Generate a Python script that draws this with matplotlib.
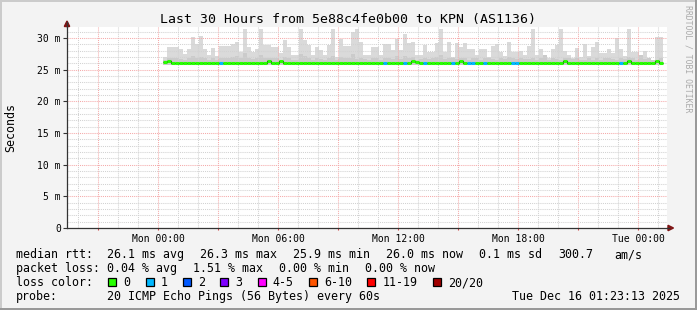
import numpy as np
import matplotlib
matplotlib.use('Agg')
import matplotlib.pyplot as plt
from matplotlib.patches import Rectangle, Polygon
from matplotlib.lines import Line2D
from matplotlib.ticker import FixedLocator

plt.rcParams['font.family'] = ['DejaVu Sans Mono']

# ---- data (ms, one value per 12 min step, starting Mon 00:15) ----
t_start = 0.25   # hours after Mon 00:00
t_step = 0.2     # hours

smoke_top = [
    27.0, 28.6, 28.6, 28.6, 28.3, 27.4, 28.2, 30.2, 29.1, 30.3, 28.3, 27.3, 28.5, 27.1, 28.7, 28.7, 28.8, 29.1, 29.4, 27.8, 31.5, 28.6, 27.8, 28.3, 31.5,
    28.9, 28.9, 28.6, 28.6, 27.6, 29.7, 28.6, 27.3, 27.3, 31.5, 29.7, 28.9, 27.3, 28.6, 28.1, 27.3, 28.9, 31.5, 27.0, 29.9, 28.7, 28.7, 31.0, 31.5, 29.4,
    27.3, 27.3, 28.6, 28.6, 27.3, 29.1, 29.1, 28.1, 29.9, 28.1, 30.7, 29.2, 29.4, 27.3, 27.3, 28.9, 27.8, 27.8, 29.2, 31.5, 27.8, 29.4, 27.0, 29.2, 28.6,
    29.2, 28.2, 28.3, 27.3, 28.2, 28.2, 27.0, 28.8, 29.1, 27.8, 27.1, 29.4, 27.8, 27.8, 27.9, 27.3, 28.8, 31.5, 27.3, 28.2, 27.3, 26.8, 28.2, 28.9, 31.5,
    28.0, 27.3, 26.8, 28.4, 27.0, 29.1, 27.1, 28.6, 29.3, 27.6, 27.6, 28.2, 27.7, 30.0, 28.2, 27.1, 31.5, 27.8, 27.8, 27.3, 28.0, 26.9, 26.6, 30.1, 30.1,
]
smoke_mid = [
    26.6, 26.9, 26.9, 26.8, 26.7, 26.5, 26.9, 27.1, 26.8, 27.0, 26.8, 26.6, 26.8, 26.6, 26.8, 26.9, 26.9, 27.0, 27.1, 26.8, 27.6, 26.9, 26.7, 26.8, 27.3,
    26.9, 26.8, 26.8, 26.9, 26.6, 27.0, 26.8, 26.6, 26.6, 27.4, 27.1, 26.9, 26.6, 26.8, 26.7, 26.6, 26.9, 27.2, 26.5, 27.0, 26.8, 26.9, 27.4, 26.7, 26.9,
    26.7, 26.6, 26.8, 26.8, 26.6, 26.9, 26.9, 26.7, 27.1, 26.7, 27.2, 26.9, 27.0, 26.6, 26.7, 26.9, 26.7, 26.8, 27.0, 27.3, 26.7, 26.9, 26.8, 26.7, 26.8,
    26.9, 26.6, 26.9, 26.9, 26.6, 26.8, 26.9, 26.7, 26.6, 26.8, 26.7, 27.0, 26.8, 26.7, 26.9, 26.7, 26.7, 26.8, 26.6, 26.9, 27.3, 26.6, 26.8, 26.7, 26.5,
    26.8, 26.9, 26.7, 26.8, 26.6, 26.5, 26.8, 26.6, 26.9, 26.6, 26.8, 26.9, 26.7, 26.6, 26.8, 26.7, 27.0, 26.8, 26.6, 27.3, 26.7, 26.8, 26.5, 26.5, 26.9,
]
median = [
    26.2, 26.4, 26.0, 26.1, 26.1, 26.0, 26.1, 26.1, 26.1, 26.1, 26.1, 26.1, 26.1, 26.1, 26.1, 26.1, 26.1, 26.1, 26.1, 26.1, 26.1, 26.0, 26.1, 26.1, 26.1,
    26.1, 26.4, 26.1, 26.1, 26.4, 26.1, 26.0, 26.1, 26.1, 26.1, 26.1, 26.1, 26.1, 26.1, 26.1, 26.1, 26.1, 26.0, 26.1, 26.1, 26.1, 26.1, 26.1, 26.0, 26.1,
    26.1, 26.1, 26.1, 26.1, 26.1, 26.1, 26.1, 26.1, 26.1, 26.1, 26.1, 26.1, 26.4, 26.2, 26.1, 26.1, 26.1, 26.1, 26.0, 26.1, 26.1, 26.1, 26.1, 26.1, 26.3,
    26.1, 26.1, 26.1, 26.0, 26.1, 26.1, 26.1, 26.1, 26.1, 26.1, 26.1, 26.1, 26.1, 26.1, 26.1, 26.0, 26.1, 26.1, 26.1, 26.1, 26.1, 26.1, 26.1, 26.1, 26.1,
    26.4, 26.1, 26.1, 26.1, 26.1, 26.0, 26.1, 26.1, 26.1, 26.1, 26.1, 26.1, 26.1, 26.1, 26.1, 26.1, 26.3, 26.1, 26.0, 26.1, 26.1, 26.1, 26.1, 26.3, 26.1,
]
loss_bin = [
    0, 0, 0, 0, 0, 0, 0, 0, 0, 0, 0, 0, 0, 0, 1, 0, 0, 0, 0, 0, 0, 0, 0, 0, 0,
    0, 0, 0, 0, 0, 0, 0, 0, 0, 0, 0, 0, 0, 0, 0, 0, 0, 0, 0, 0, 0, 0, 0, 0, 0,
    0, 0, 0, 0, 0, 1, 0, 0, 0, 0, 1, 0, 0, 0, 0, 1, 0, 0, 0, 0, 0, 0, 1, 0, 0,
    0, 1, 1, 0, 0, 1, 0, 0, 0, 0, 0, 0, 1, 1, 0, 0, 0, 0, 0, 0, 0, 0, 0, 0, 0,
    0, 0, 0, 0, 0, 0, 0, 0, 0, 0, 0, 0, 0, 0, 1, 0, 0, 0, 0, 0, 0, 0, 0, 0, 0,
]

loss_labels = ['0', '1', '2', '3', '4-5', '6-10', '11-19', '20/20']
loss_colors = ['#26ff00', '#00b8ff', '#0059ff', '#7e00ff', '#ff00ff', '#ff5500', '#ff0000', '#a10000']

x_tick_hours = [0, 6, 12, 18, 24]
x_tick_labels = ['Mon 00:00', 'Mon 06:00', 'Mon 12:00', 'Mon 18:00', 'Tue 00:00']
y_ticks = [0, 5, 10, 15, 20, 25, 30]
y_tick_labels = ['0', '5 m', '10 m', '15 m', '20 m', '25 m', '30 m']

title = 'Last 30 Hours from 5e88c4fe0b00 to KPN (AS1136)'
rtt_parts = ['median rtt:', '26.1 ms avg', '26.3 ms max', '25.9 ms min', '26.0 ms now', '0.1 ms sd', '300.7', 'am/s']
loss_parts = ['packet loss:', '0.04 % avg', '1.51 % max', '0.00 % min', '0.00 % now']
probe_text = '20 ICMP Echo Pings (56 Bytes) every 60s'
stamp = 'Tue Dec 16 01:23:13 2025'

# ---- layout (pixels) ----
W, H = 697, 310
X0, X1, Y0, Y1 = 67, 667, 27, 228


def fx(x):
    return x / W


def fy(y):
    return 1 - y / H


fig = plt.figure(figsize=(W / 100, H / 100), dpi=100, facecolor='#F3F3F3')
ax = fig.add_axes([fx(X0), fy(Y1), (X1 - X0) / W, (Y1 - Y0) / H])
ax.set_facecolor('white')
ax.set_xlim(-4.55, 25.45)
ax.set_ylim(0, 31.74)

n = len(smoke_top)
edges = t_start + t_step * np.arange(n + 1)
top = np.array(smoke_top)
mid = np.minimum(np.array(smoke_mid), top)
med = np.array(median)

ax.stairs(top, edges, baseline=25.8, fill=True, color='#DADADA', lw=0, zorder=1)
ax.stairs(mid, edges, baseline=25.8, fill=True, color='#CBCBCB', lw=0, zorder=1.1)
ax.stairs(med, edges, baseline=None, color='#111111', lw=0.8, zorder=3)
ax.hlines(med, edges[:-1], edges[1:], colors=[loss_colors[b] for b in loss_bin],
          lw=2.2, zorder=4)

# grid
ax.xaxis.set_major_locator(FixedLocator(np.arange(-3, 26, 3)))
ax.xaxis.set_minor_locator(FixedLocator(np.arange(-4, 26, 1)))
ax.set_xticklabels([x_tick_labels[x_tick_hours.index(h)] if h in x_tick_hours else ''
                    for h in np.arange(-3, 26, 3)])
ax.yaxis.set_major_locator(FixedLocator(y_ticks))
ax.yaxis.set_minor_locator(FixedLocator(np.arange(0, 32, 1)))
ax.set_yticklabels(y_tick_labels)
ax.set_axisbelow('line')
ax.grid(which='minor', color='#D2D2D2', linestyle=(0, (1, 1)), lw=0.75)
ax.grid(which='major', color='#F5AAAA', linestyle=(0, (1, 1)), lw=0.75)

for s in ['top', 'right']:
    ax.spines[s].set_visible(False)
for s in ['left', 'bottom']:
    ax.spines[s].set_color('#333333')
    ax.spines[s].set_linewidth(0.9)

ax.tick_params(axis='y', which='major', length=3, pad=1.5, labelsize=7, color='#333333')
ax.tick_params(axis='x', which='major', length=1.5, pad=3, labelsize=7, color='#cc4444')
ax.tick_params(which='minor', length=0)

# axis extensions and arrows
fig.add_artist(Line2D([fx(X0), fx(X0)], [fy(Y0), fy(22)], color='#333333', lw=0.9))
fig.add_artist(Line2D([fx(X1), fx(669)], [fy(Y1), fy(Y1)], color='#333333', lw=0.9))
fig.add_artist(Polygon([(fx(67), fy(21)), (fx(64.3), fy(26.5)), (fx(69.7), fy(26.5))],
                       closed=True, color='#7F1515', transform=fig.transFigure))
fig.add_artist(Polygon([(fx(673.5), fy(228)), (fx(668), fy(225.3)), (fx(668), fy(230.7))],
                       closed=True, color='#7F1515', transform=fig.transFigure))

# frame
fig.add_artist(Rectangle((0, fy(2)), 1, 2 / H, color='#CBCBCB', transform=fig.transFigure, lw=0))
fig.add_artist(Rectangle((0, 0), 2 / W, 1, color='#CBCBCB', transform=fig.transFigure, lw=0))
fig.add_artist(Rectangle((fx(W - 2), 0), 2 / W, 1, color='#999999', transform=fig.transFigure, lw=0))
fig.add_artist(Rectangle((0, 0), 1, 2 / H, color='#999999', transform=fig.transFigure, lw=0))

# texts
fig.text(fx(348), fy(23.5), title, ha='center', va='baseline', fontsize=9.5)
fig.text(fx(10.5), fy(127), 'Seconds', rotation=90, ha='center', va='center', fontsize=8.4)
fig.text(fx(688), fy(59), 'RRDTOOL / TOBI OETIKER', rotation=270, ha='center', va='center',
         fontsize=5.9, color='#AAAAAA')

fs = 8.4
rtt_x = [16, 107, 200, 293, 386, 479, 558, 614]
for s, x in zip(rtt_parts, rtt_x):
    fig.text(fx(x), fy(258.3), s, ha='left', va='baseline', fontsize=fs)
loss_x = [16, 107, 193, 279, 365]
for s, x in zip(loss_parts, loss_x):
    fig.text(fx(x), fy(272.3), s, ha='left', va='baseline', fontsize=fs)

fig.text(fx(16), fy(286.3), 'loss color:', ha='left', va='baseline', fontsize=fs)
x = 108.3
for lab, col in zip(loss_labels, loss_colors):
    fig.add_artist(Rectangle((fx(x), fy(286)), 8 / W, 8 / H, facecolor=col, edgecolor='black',
                             lw=0.9, transform=fig.transFigure))
    fig.text(fx(x + 15), fy(286.3), lab, ha='left', va='baseline', fontsize=fs)
    x += 15 + 7.02 * len(lab) + 15.3

fig.text(fx(16), fy(300.3), 'probe:', ha='left', va='baseline', fontsize=fs)
fig.text(fx(107), fy(300.3), probe_text, ha='left', va='baseline', fontsize=fs)
fig.text(fx(680.5), fy(300.3), stamp, ha='right', va='baseline', fontsize=fs)

fig.savefig('out.png', dpi=100, facecolor=fig.get_facecolor())
